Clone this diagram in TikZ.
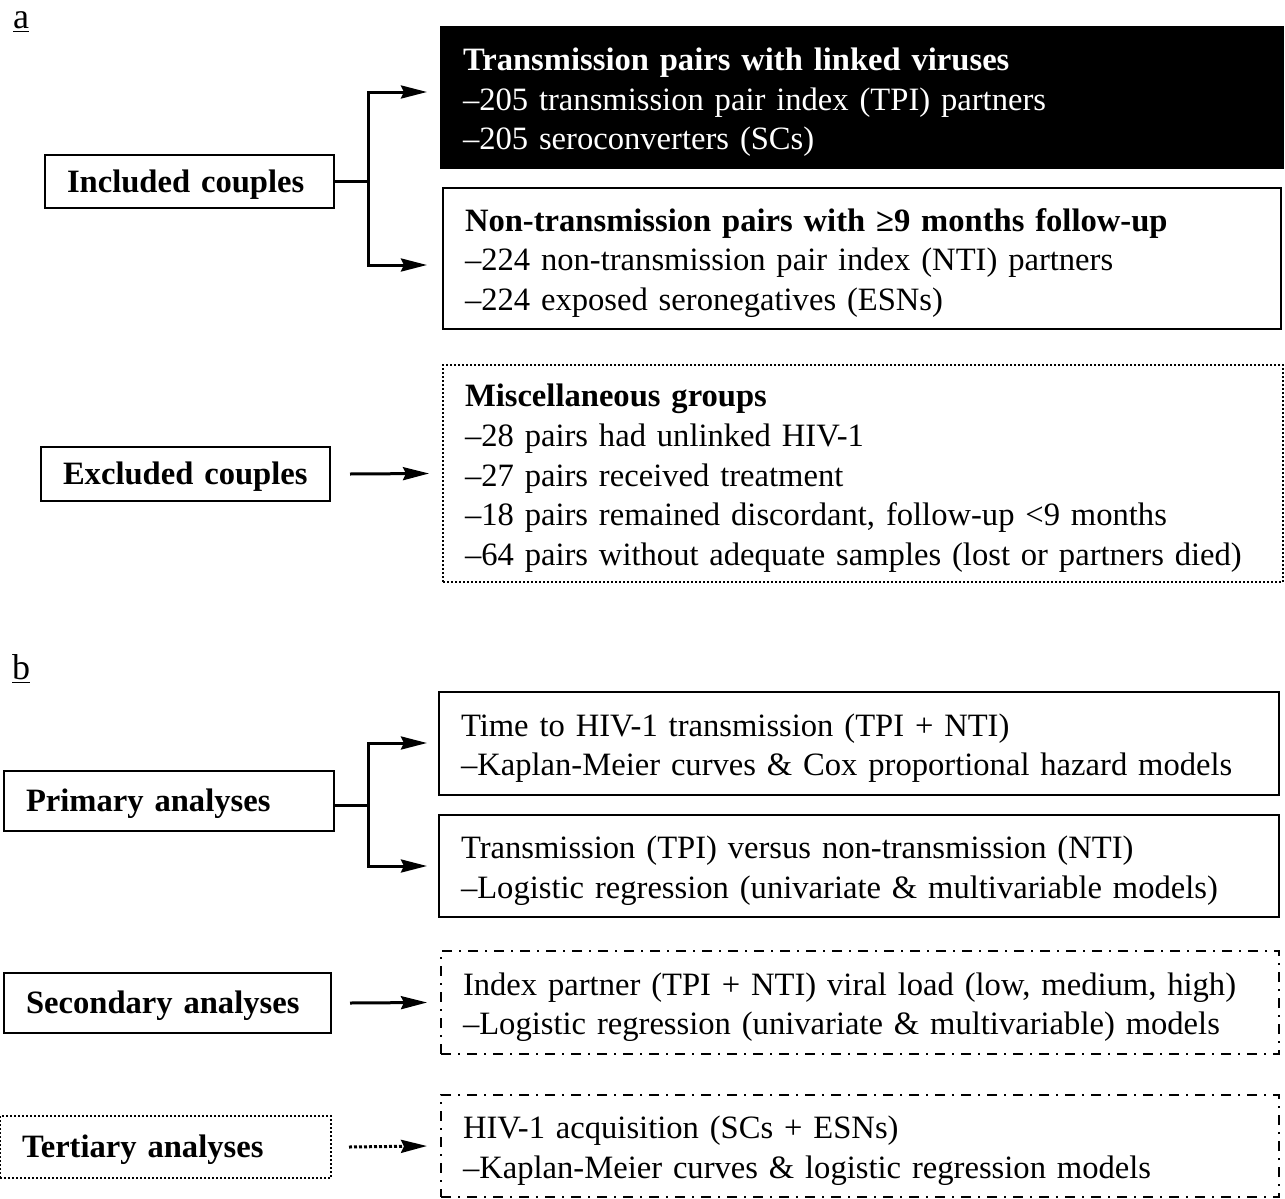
\documentclass[tikz,border=0pt]{standalone}
\usepackage{fontspec}
\setmainfont{Liberation Serif}
\usepackage{tikz}
\usetikzlibrary{arrows.meta,positioning,calc}

\begin{document}
\begin{tikzpicture}[x=.5pt,y=-.5pt,>={Stealth[length=13pt,width=6.5pt,inset=1.5pt]},
  every node/.style={font=\fontsize{16.3}{19.8}\selectfont,inner xsep=11pt,inner ysep=0pt},
  leftbox/.style={draw,line width=1pt,align=left,text height=14.3pt,font=\fontsize{16.3}{19.8}\selectfont\bfseries},
  infobox/.style={draw,line width=1pt,align=left,text height=16pt},
  panel/.style={font=\fontsize{18}{20}\selectfont},
  dotline/.style={line width=1pt,dash pattern=on 1pt off 1pt},
  dashdot/.style={line width=1pt,dash pattern=on 5pt off 3.5pt on 1pt off 3.5pt},
  link/.style={line width=1.5pt}]
\useasboundingbox (0,0) rectangle (1285,1199);
% panel a
\node[panel] (lbla) at (21,22) {\underline{a}};
\node[infobox,fill=black,text=white,text width=399pt,minimum height=70.5pt] (tr) at (862,97.5)
  {\textbf{Transmission pairs with linked viruses}\\--205 transmission pair index (TPI) partners\\--205 seroconverters (SCs)};
\node[infobox,text width=397pt,minimum height=70.5pt] (nt) at (862,258.5)
  {\textbf{Non-transmission pairs with ≥9 months follow-up}\\--224 non-transmission pair index (NTI) partners\\--224 exposed seronegatives (ESNs)};
\node[infobox,dotline,text width=398pt,minimum height=108.5pt] (misc) at (863,473.5)
  {\textbf{Miscellaneous groups}\\--28 pairs had unlinked HIV-1\\--27 pairs received treatment\\--18 pairs remained discordant, follow-up <9 months\\--64 pairs without adequate samples (lost or partners died)};
\node[leftbox,text width=122.5pt,minimum height=26.5pt] (inc) at (189.5,181.5) {Included couples};
\node[leftbox,text width=122.5pt,minimum height=27pt] (exc) at (185.5,474) {Excluded couples};
\coordinate (forka) at (368,181.5);
\coordinate (tipa1) at (427,92);
\coordinate (tipa2) at (427,265);
\draw[link] (inc.east) -- (forka);
\draw[link,->] (forka) |- (tipa1);
\draw[link,->] (forka) |- (tipa2);
\draw[link,->] ($(exc.east)+(19,0)$) -- ($(misc.west)+(-13,0)$);
% panel b
\node[panel] (lblb) at (21,669) {\underline{b}};
\node[infobox,text width=398pt,minimum height=51.5pt] (tth) at (859,743.5)
  {Time to HIV-1 transmission (TPI + NTI)\\--Kaplan-Meier curves \& Cox proportional hazard models};
\node[infobox,text width=398pt,minimum height=51pt] (tvn) at (859,866)
  {Transmission (TPI) versus non-transmission (NTI)\\--Logistic regression (univariate \& multivariable models)};
\node[infobox,dashdot,text width=397pt,minimum height=51.5pt] (ivl) at (860,1002.5)
  {Index partner (TPI + NTI) viral load (low, medium, high)\\--Logistic regression (univariate \& multivariable) models};
\node[infobox,dashdot,text width=397pt,minimum height=51pt] (acq) at (860,1146)
  {HIV-1 acquisition (SCs + ESNs)\\--Kaplan-Meier curves \& logistic regression models};
\node[leftbox,text width=143pt,minimum height=30pt] (pri) at (169,801) {Primary analyses};
\node[leftbox,text width=141.5pt,minimum height=30pt] (sec) at (167.5,1003) {Secondary analyses};
\node[leftbox,dotline,text width=143.5pt,minimum height=31pt] (ter) at (165.5,1147) {Tertiary analyses};
\coordinate (forkb) at (368,805);
\coordinate (tipb1) at (427,743);
\coordinate (tipb2) at (427,866);
\draw[link] (pri.east |- forkb) -- (forkb);
\draw[link,->] (forkb) |- (tipb1);
\draw[link,->] (forkb) |- (tipb2);
\draw[link,->] ($(sec.east)+(18,0)$) -- ($(ivl.west)+(-13,0)$);
\draw[link,->,dash pattern=on 1.5pt off 1pt] ($(ter.east)+(17,0)$) -- ($(acq.west)+(-13,0)$);
\end{tikzpicture}
\end{document}
